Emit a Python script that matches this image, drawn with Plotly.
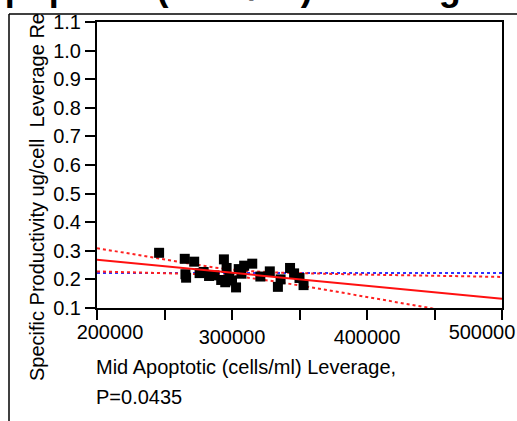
import numpy as np
import plotly.graph_objects as go

# Mid apoptotic cell density (cells/ml) and specific productivity leverage residuals
mid_apoptotic = [246000, 265000, 265500, 266000, 272000, 276000, 279000, 283000,
                 287000, 292000, 294000, 295000, 296000, 298000, 300000, 303000,
                 305000, 307000, 309000, 315000, 321000, 328000, 334000, 336000,
                 343000, 346000, 350000, 353000]
productivity = [0.293, 0.272, 0.218, 0.206, 0.262, 0.222, 0.226, 0.212,
                0.214, 0.198, 0.270, 0.190, 0.240, 0.208, 0.196, 0.172,
                0.236, 0.220, 0.248, 0.255, 0.210, 0.228, 0.174, 0.200,
                0.240, 0.221, 0.205, 0.180]

x_range = [200000, 500000]
y_range = [0.1, 1.1]
x_tick_vals = [200000, 300000, 400000, 500000]
y_tick_vals = [0.1, 0.2, 0.3, 0.4, 0.5, 0.6, 0.7, 0.8, 0.9, 1.0, 1.1]
t_crit = 2.056  # two-sided 95%, n-2 degrees of freedom

x = np.array(mid_apoptotic, dtype=float)
y = np.array(productivity, dtype=float)
n = len(x)
slope, intercept = np.polyfit(x, y, 1)
resid = y - (intercept + slope * x)
s = np.sqrt(np.sum(resid ** 2) / (n - 2))
xbar, ybar = x.mean(), y.mean()
sxx = np.sum((x - xbar) ** 2)

xs = np.linspace(x_range[0], x_range[1], 200)
fit = intercept + slope * xs
half = t_crit * s * np.sqrt(1.0 / n + (xs - xbar) ** 2 / sxx)

fig = go.Figure()
fig.add_trace(go.Scatter(x=xs, y=np.full_like(xs, ybar), mode="lines",
                         line=dict(color="#3030ff", width=2, dash="dot")))
fig.add_trace(go.Scatter(x=xs, y=fit + half, mode="lines",
                         line=dict(color="#ff2020", width=2, dash="dot")))
fig.add_trace(go.Scatter(x=xs, y=fit - half, mode="lines",
                         line=dict(color="#ff2020", width=2, dash="dot")))
fig.add_trace(go.Scatter(x=mid_apoptotic, y=productivity, mode="markers",
                         marker=dict(symbol="square", size=10, color="black",
                                     line=dict(width=0))))
fig.add_trace(go.Scatter(x=xs, y=fit, mode="lines",
                         line=dict(color="#ff1010", width=2)))

# empty traces that carry the overlay axes used for the two end labels
fig.add_trace(go.Scatter(x=[], y=[], xaxis="x2", yaxis="y", showlegend=False))
fig.add_trace(go.Scatter(x=[], y=[], xaxis="x3", yaxis="y", showlegend=False))

FONT = "Arial, Liberation Sans, sans-serif"
axis_font = dict(family=FONT, size=20, color="black")

# plot box in pixels: left 97, right 502, top 22, bottom 308
PL, PR, PT, PB = 97, 502, 22, 308


def px(xp):
    return (xp - PL) / (PR - PL)


def py(yp):
    return (PB - yp) / (PB - PT)


mid_ticks = x_tick_vals[1:-1]
end_axis = dict(range=x_range, overlaying="x", anchor="y", side="bottom",
                domain=[0, 1], automargin=False,
                ticks="", showline=False, showgrid=False, zeroline=False,
                tickfont=axis_font, ticklabeloverflow="allow", ticklabelstandoff=10)

fig.update_layout(
    width=517, height=421,
    margin=dict(l=PL, r=517 - PR, t=PT, b=421 - PB, autoexpand=False),
    paper_bgcolor="white", plot_bgcolor="white",
    showlegend=False,
    font=axis_font,
    xaxis=dict(range=x_range, tickvals=mid_ticks, ticktext=[str(v) for v in mid_ticks],
               ticks="outside", ticklen=10, tickwidth=2, tickcolor="black",
               showline=True, linewidth=2, linecolor="black", mirror=True,
               showgrid=False, zeroline=False, tickfont=axis_font, automargin=False,
               minor=dict(dtick=50000, tick0=200000, ticks="outside", ticklen=10,
                          tickwidth=2, tickcolor="black", showgrid=False)),
    # first and last labels are pulled inward, away from the page edges
    xaxis2=dict(end_axis, tickvals=[x_tick_vals[0]], ticktext=[str(x_tick_vals[0])],
                ticklabelshift=13),
    xaxis3=dict(end_axis, tickvals=[x_tick_vals[-1]], ticktext=[str(x_tick_vals[-1])],
                ticklabelshift=-20),
    yaxis=dict(range=y_range, tickvals=y_tick_vals, ticktext=[f"{v:.1f}" for v in y_tick_vals],
               ticks="outside", ticklen=10, tickwidth=2, tickcolor="black",
               showline=True, linewidth=2, linecolor="black", mirror=True,
               showgrid=False, zeroline=False, tickfont=axis_font, automargin=False),
)

# axis titles
fig.add_annotation(xref="paper", yref="paper", x=px(94), y=py(367), xanchor="left",
                   yanchor="middle", text="Mid Apoptotic (cells/ml) Leverage,",
                   showarrow=False, font=axis_font)
fig.add_annotation(xref="paper", yref="paper", x=px(94), y=py(397), xanchor="left",
                   yanchor="middle", text="P=0.0435", showarrow=False, font=axis_font)
fig.add_annotation(xref="paper", yref="paper", x=px(37), y=py(383), xanchor="center",
                   yanchor="bottom", textangle=-90,
                   text="Specific Productivity ug/cell&nbsp;&nbsp;Leverage Re", showarrow=False,
                   font=axis_font)

# report title (partly above the page edge)
fig.add_annotation(xref="paper", yref="paper", x=px(194), y=py(-13), xanchor="center",
                   yanchor="middle", text="<b>Mid Apoptotic (cells/ml) Leverage</b>",
                   showarrow=False, font=dict(family=FONT, size=36, color="black"))

# report frame
fig.add_shape(type="line", xref="paper", yref="paper",
              x0=px(9), x1=px(520), y0=py(14), y1=py(14),
              line=dict(color="black", width=1.5))
fig.add_shape(type="line", xref="paper", yref="paper",
              x0=px(9), x1=px(9), y0=py(14), y1=py(425),
              line=dict(color="black", width=1.5))

fig.write_html("out.html")
